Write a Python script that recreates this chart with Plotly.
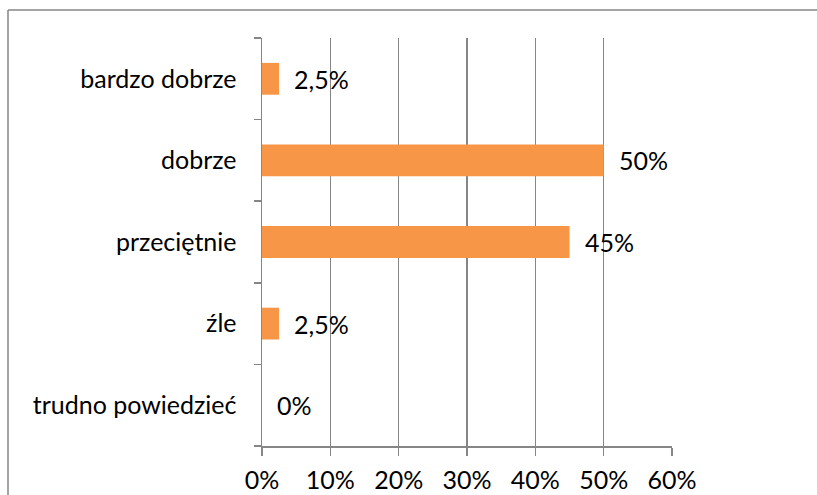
import plotly.graph_objects as go

categories = ["bardzo dobrze", "dobrze", "przeciętnie", "źle", "trudno powiedzieć"]
values = [0.025, 0.50, 0.45, 0.025, 0.0]
value_labels = ["2,5%", "50%", "45%", "2,5%", "0%"]
x_tick_vals = [0, 0.1, 0.2, 0.3, 0.4, 0.5, 0.6]
x_tick_text = ["0%", "10%", "20%", "30%", "40%", "50%", "60%"]

FONT = "Lato, Carlito, Calibri, sans-serif"
FS = 25
GRID = "#868686"

fig = go.Figure()
fig.add_trace(go.Bar(
    y=categories, x=values, orientation="h",
    marker=dict(color="#F79646", line=dict(width=0)),
    width=0.39, hoverinfo="skip",
))

for c, v, t in zip(categories, values, value_labels):
    fig.add_annotation(x=v, y=c, xref="x", yref="y", text=t, showarrow=False,
                       xanchor="left", yanchor="middle", xshift=13,
                       font=dict(family=FONT, size=FS, color="#000000"))

W, H = 817, 495
L, R, T, B = 262, 145, 38, 49
pw, ph = W - L - R, H - T - B
left_px, top_px = 8, 10
xl = (left_px - L) / pw
yt = 1 + (T - top_px) / ph
fig.add_shape(type="line", xref="paper", yref="paper", x0=xl, x1=xl, y0=yt, y1=-0.5,
              line=dict(color="#868686", width=1.5))
fig.add_shape(type="line", xref="paper", yref="paper", x0=xl, x1=1.6, y0=yt, y1=yt,
              line=dict(color="#868686", width=1.5))

fig.update_layout(
    width=W, height=H,
    margin=dict(l=L, r=R, t=T, b=B, autoexpand=False),
    paper_bgcolor="white", plot_bgcolor="white",
    showlegend=False,
    font=dict(family=FONT, size=FS, color="#000000"),
    xaxis=dict(range=[0, 0.6], tickvals=x_tick_vals, ticktext=x_tick_text,
               showgrid=True, gridcolor=GRID, gridwidth=1.5,
               showline=True, linecolor=GRID, linewidth=1.5,
               ticks="outside", ticklen=8, tickcolor=GRID, tickwidth=1.5,
               zeroline=False, fixedrange=True, ticklabelstandoff=3,
               automargin=False),
    yaxis=dict(categoryorder="array", categoryarray=categories[::-1],
               showgrid=False, showline=True, linecolor=GRID, linewidth=1.5,
               ticks="outside", ticklen=7, tickcolor=GRID, tickwidth=1.5,
               tickson="boundaries", zeroline=False, ticklabelstandoff=19,
               automargin=False, fixedrange=True),
    bargap=0.6,
)

fig.write_html("out.html", config={"displayModeBar": False, "staticPlot": True},
               post_script="document.body.style.margin='0';document.body.style.overflow='hidden';")
